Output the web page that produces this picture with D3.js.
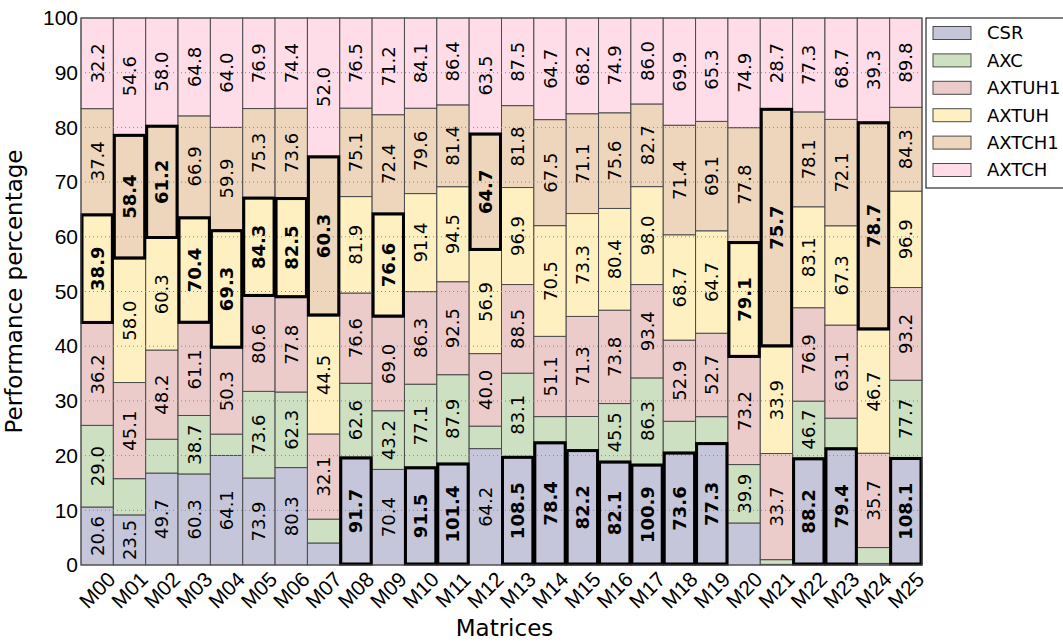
<!DOCTYPE html>
<html>
<head>
<meta charset="utf-8">
<script src="https://cdn.jsdelivr.net/npm/d3@7"></script>
<style>
  body { margin: 0; background: #fff; }
  svg { font-family: "DejaVu Sans", sans-serif; }
</style>
</head>
<body>
<div id="chart"></div>
<script>
(function() {
    'use strict';

    // Data: performance values per format, per matrix
    var matrices = ['M00','M01','M02','M03','M04','M05','M06','M07','M08','M09','M10','M11','M12',
                    'M13','M14','M15','M16','M17','M18','M19','M20','M21','M22','M23','M24','M25'];
    var formats = ['CSR', 'AXC', 'AXTUH1', 'AXTUH', 'AXTCH1', 'AXTCH'];

    var csr    = [20.6, 23.5, 49.7, 60.3, 64.1, 73.9, 80.3, 8.3, 91.7, 70.4, 91.5, 101.4, 64.2,
                  108.5, 78.4, 82.2, 82.1, 100.9, 73.6, 77.3, 28.7, 0.2, 88.2, 79.4, 0.6, 108.1];
    var axc    = [29.0, 17.0, 18.3, 38.7, 12.5, 73.6, 62.3, 9.0, 62.6, 43.2, 77.1, 87.9, 12.4,
                  83.1, 16.1, 23.6, 45.5, 86.3, 20.1, 16.4, 39.9, 1.5, 46.7, 20.1, 6.0, 77.7];
    var axtuh1 = [36.2, 45.1, 48.2, 61.1, 50.3, 80.6, 77.8, 32.1, 76.6, 69.0, 86.3, 92.5, 40.0,
                  88.5, 51.1, 71.3, 73.8, 93.4, 52.9, 52.7, 73.2, 33.7, 76.9, 63.1, 35.7, 93.2];
    var axtuh  = [38.9, 58.0, 60.3, 70.4, 69.3, 84.3, 82.5, 44.5, 81.9, 76.6, 91.4, 94.5, 56.9,
                  96.9, 70.5, 73.3, 80.4, 98.0, 68.7, 64.7, 79.1, 33.9, 83.1, 67.3, 46.7, 96.9];
    var axtch1 = [37.4, 58.4, 61.2, 66.9, 59.9, 75.3, 73.6, 60.3, 75.1, 72.4, 79.6, 81.4, 64.7,
                  81.8, 67.5, 71.1, 75.6, 82.7, 71.4, 69.1, 77.8, 75.7, 78.1, 72.1, 78.7, 84.3];
    var axtch  = [32.2, 54.6, 58.0, 64.8, 64.0, 76.9, 74.4, 52.0, 76.5, 71.2, 84.1, 86.4, 63.5,
                  87.5, 64.7, 68.2, 74.9, 86.0, 69.9, 65.3, 74.9, 28.7, 77.3, 68.7, 39.3, 89.8];
    // segments without a printed value in the original
    var unlabeled = {
        'M01': ['AXC'], 'M02': ['AXC'], 'M04': ['AXC'], 'M07': ['CSR', 'AXC'],
        'M12': ['AXC'], 'M14': ['AXC'], 'M15': ['AXC'], 'M18': ['AXC'], 'M19': ['AXC'],
        'M20': ['CSR'], 'M21': ['CSR', 'AXC'], 'M23': ['AXC'], 'M24': ['CSR', 'AXC']
    };
    var yTicks = [0, 10, 20, 30, 40, 50, 60, 70, 80, 90, 100];

    var series = [csr, axc, axtuh1, axtuh, axtch1, axtch];
    var colors = {
        'CSR': '#c5c6da', 'AXC': '#cde0c2', 'AXTUH1': '#ecccca',
        'AXTUH': '#fef0c0', 'AXTCH1': '#eed6bd', 'AXTCH': '#fedde9'
    };

    var width = 1063, height = 643;
    var margin = { left: 81, right: 141, top: 18, bottom: 78 };

    var svg = d3.select('#chart').append('svg')
        .attr('width', width).attr('height', height);

    var x = d3.scaleBand().domain(matrices)
        .range([margin.left, width - margin.right]).padding(0);
    var y = d3.scaleLinear().domain([0, 100])
        .range([height - margin.bottom, margin.top]);

    // Build normalized segments
    var segs = [];
    matrices.forEach(function(m, i) {
        var vals = series.map(function(s) { return s[i]; });
        var total = d3.sum(vals);
        var best = d3.maxIndex(vals);
        var acc = 0;
        vals.forEach(function(v, j) {
            var p = v / total * 100;
            segs.push({
                m: m, fmt: formats[j], v: v, y0: acc, y1: acc + p, best: j === best,
                label: !(unlabeled[m] && unlabeled[m].indexOf(formats[j]) >= 0)
            });
            acc += p;
        });
    });

    svg.append('g').selectAll('rect')
        .data(segs)
        .join('rect')
        .attr('x', function(d) { return x(d.m); })
        .attr('width', x.bandwidth())
        .attr('y', function(d) { return y(d.y1); })
        .attr('height', function(d) { return y(d.y0) - y(d.y1); })
        .attr('fill', function(d) { return colors[d.fmt]; })
        .attr('stroke', '#4a4a4a')
        .attr('stroke-width', 1);

    // dotted grid over the bars
    svg.append('g').selectAll('line')
        .data(yTicks.slice(1, -1))
        .join('line')
        .attr('x1', margin.left).attr('x2', width - margin.right)
        .attr('y1', function(d) { return y(d); }).attr('y2', function(d) { return y(d); })
        .attr('stroke', '#8a8a8a').attr('stroke-width', 1)
        .attr('stroke-dasharray', '1,3');

    // bold border on the best format of each matrix
    svg.append('g').selectAll('rect')
        .data(segs.filter(function(d) { return d.best; }))
        .join('rect')
        .attr('x', function(d) { return x(d.m) + 1; })
        .attr('width', x.bandwidth() - 2)
        .attr('y', function(d) { return y(d.y1) + 1; })
        .attr('height', function(d) { return y(d.y0) - y(d.y1) - 2; })
        .attr('fill', 'none')
        .attr('stroke', '#000')
        .attr('stroke-width', 3);

    // value labels
    svg.append('g').selectAll('text')
        .data(segs.filter(function(d) { return d.label; }))
        .join('text')
        .attr('transform', function(d) {
            var cx = x(d.m) + x.bandwidth() / 2;
            var cy = y((d.y0 + d.y1) / 2);
            return 'translate(' + cx + ',' + cy + ') rotate(-90)';
        })
        .attr('text-anchor', 'middle')
        .attr('dy', '0.36em')
        .style('font-size', '18px')
        .style('font-weight', function(d) { return d.best ? 'bold' : 'normal'; })
        .text(function(d) { return d.v.toFixed(1); });

    // frame
    svg.append('rect')
        .attr('x', margin.left).attr('y', margin.top)
        .attr('width', width - margin.left - margin.right)
        .attr('height', height - margin.top - margin.bottom)
        .attr('fill', 'none').attr('stroke', '#555').attr('stroke-width', 1);

    // y axis
    var yAxis = svg.append('g')
        .attr('transform', 'translate(' + margin.left + ',0)')
        .call(d3.axisLeft(y).tickValues(yTicks).tickSize(0).tickPadding(3));
    yAxis.select('.domain').remove();
    yAxis.selectAll('text').style('font-size', '21px').attr('fill', '#000');

    // x axis
    var xAxis = svg.append('g')
        .attr('transform', 'translate(0,' + (height - margin.bottom) + ')')
        .call(d3.axisBottom(x).tickSize(0));
    xAxis.select('.domain').remove();
    xAxis.selectAll('text')
        .style('font-size', '21px').attr('fill', '#000')
        .attr('text-anchor', 'middle')
        .attr('y', 0)
        .attr('dy', '0.35em')
        .attr('transform', 'translate(0,25) rotate(-45)');

    svg.append('text')
        .attr('transform', 'translate(22,' + ((margin.top + height - margin.bottom) / 2) + ') rotate(-90)')
        .attr('text-anchor', 'middle')
        .style('font-size', '23px')
        .text('Performance percentage');

    svg.append('text')
        .attr('x', (margin.left + width - margin.right) / 2 + 3)
        .attr('y', 636)
        .attr('text-anchor', 'middle')
        .style('font-size', '23px')
        .text('Matrices');

    // legend
    var lg = svg.append('g').attr('transform', 'translate(926,18)');
    lg.append('rect')
        .attr('width', 150).attr('height', 170)
        .attr('fill', '#fff').attr('stroke', '#000').attr('stroke-width', 1);
    var item = lg.selectAll('g.item')
        .data(formats)
        .join('g')
        .attr('class', 'item')
        .attr('transform', function(d, i) { return 'translate(0,' + (15 + i * 27.4) + ')'; });
    item.append('rect')
        .attr('x', 7).attr('y', -6.5).attr('width', 38).attr('height', 13)
        .attr('fill', function(d) { return colors[d]; })
        .attr('stroke', '#4a4a4a');
    item.append('text')
        .attr('x', 61).attr('dy', '0.35em')
        .style('font-size', '18px')
        .text(function(d) { return d; });
})();
</script>
</body>
</html>
